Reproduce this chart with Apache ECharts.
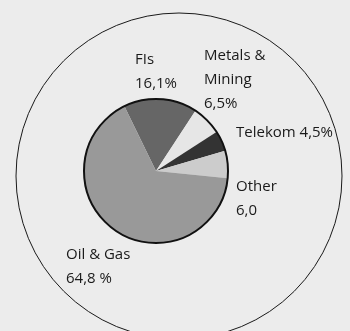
<!DOCTYPE html>
<html>
<head>
<meta charset="utf-8">
<script src="https://cdn.jsdelivr.net/npm/echarts@6/dist/echarts.min.js"></script>
<style>
  html, body { margin: 0; padding: 0; background: #ececec; }
  #chart { width: 350px; height: 331px; }
</style>
</head>
<body>
<div id="chart"></div>
<script>
var categories = ['FIs', 'Metals & Mining', 'Telekom', 'Other', 'Oil & Gas'];
var shares = [16.1, 6.5, 4.5, 6.0, 64.8];
var labelTexts = ['FIs\n16,1%', 'Metals &\nMining\n6,5%', 'Telekom 4,5%', 'Other\n6,0', 'Oil & Gas\n64,8 %'];

var colors = ['#666666', '#e6e6e6', '#333333', '#cccccc', '#999999'];
// where each label block sits (left edge, vertical middle)
var labelSpots = [[135, 72], [204, 80], [236, 133], [236, 199], [66, 267]];

var dom = document.getElementById('chart');
var myChart = echarts.init(dom);

var option = {
    backgroundColor: '#ececec',
    animation: false,
    graphic: [
        {
            type: 'circle',
            shape: { cx: 179, cy: 176, r: 163 },
            style: { fill: 'none', stroke: '#1a1a1a', lineWidth: 1 },
            silent: true,
            z: 0
        },
        {
            type: 'circle',
            shape: { cx: 156, cy: 171, r: 72 },
            style: { fill: 'none', stroke: '#111111', lineWidth: 2 },
            silent: true,
            z: 100
        }
    ],
    series: [{
        type: 'pie',
        center: [156, 171],
        radius: 72,
        startAngle: 116,
        clockwise: true,
        silent: true,
        itemStyle: { borderWidth: 0 },
        labelLine: { show: false },
        label: {
            show: true,
            position: 'outside',
            color: '#1a1a1a',
            fontFamily: 'Open Sans',
            fontSize: 15,
            lineHeight: 24,
            overflow: 'none',
            width: 140,
            formatter: function (p) { return labelTexts[p.dataIndex]; }
        },
        labelLayout: function (p) {
            var s = labelSpots[p.dataIndex];
            return { x: s[0], y: s[1], align: 'left', verticalAlign: 'middle', hideOverlap: false };
        },
        data: categories.map(function (c, i) {
            return { name: c, value: shares[i], itemStyle: { color: colors[i] } };
        })
    }]
};

if (option && typeof option === 'object') {
    myChart.setOption(option);
}
</script>
</body>
</html>
